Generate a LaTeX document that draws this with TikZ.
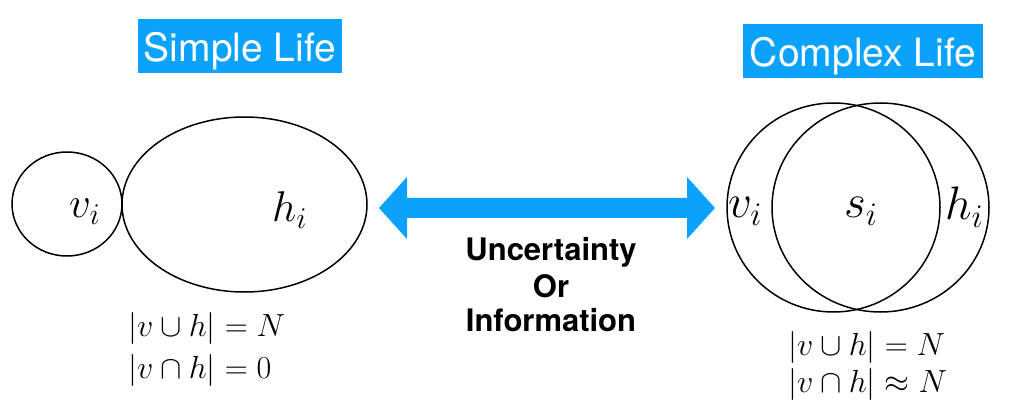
\RequirePackage{fix-cm}
\documentclass[tikz,border=0pt]{standalone}
\usepackage{fontspec}
\newfontfamily\heros{TeX Gyre Heros}
\usetikzlibrary{shapes.geometric}
\definecolor{lifeblue}{RGB}{10,162,250}
\tikzset{
  titlebox/.style={fill=lifeblue, text=white, inner sep=0pt, text height=32pt, text depth=0pt,
    font=\heros\fontsize{39}{46}\selectfont},
  setshape/.style={draw=black, line width=1.5pt, ellipse, inner sep=0pt},
  lbl/.style={inner sep=0pt, anchor=base west},
  eq/.style={inner sep=0pt, anchor=base west, font=\fontsize{32}{38}\selectfont},
  midtext/.style={inner sep=0pt, anchor=base, font=\heros\bfseries\fontsize{31}{36}\selectfont},
}
\begin{document}
\begin{tikzpicture}[x=1pt,y=-1pt]
\useasboundingbox (0,0) rectangle (1020,406);
% titles
\node[titlebox, minimum width=204pt, minimum height=54pt] (simple) at (240,46) {Simple Life};
\node[titlebox, minimum width=240pt, minimum height=54pt] (complex) at (863,51) {Complex Life};
% simple life sets
\node[setshape, minimum width=110pt, minimum height=104pt] (vsmall) at (67,204) {};
\node[setshape, minimum width=245pt, minimum height=175pt] (hbig) at (244.5,204.5) {};
\node[lbl, font=\fontsize{43}{50}\selectfont] (vl) at (69,218) {$v_i$};
\node[lbl, font=\fontsize{43}{50}\selectfont] (hl) at (272,222) {$h_i$};
\node[eq] (eq1) at (128,336) {$|v\cup h|=N$};
\node[eq] (eq2) at (128,378) {$|v\cap h|=0$};
% complex life sets
\node[setshape, minimum width=213pt, minimum height=209pt] (vc) at (833.5,207.5) {};
\node[setshape, minimum width=217pt, minimum height=209pt] (hc) at (880.5,207.5) {};
\node[lbl, font=\fontsize{47}{54}\selectfont] (vr) at (728,218) {$v_i$};
\node[lbl, font=\fontsize{47}{54}\selectfont] (sr) at (844,218) {$s_i$};
\node[lbl, font=\fontsize{47}{54}\selectfont] (hr) at (945,220) {$h_i$};
\node[eq] (eq3) at (788,355) {$|v\cup h|=N$};
\node[eq] (eq4) at (788,392) {$|v\cap h|\approx N$};
% double arrow
\fill[lifeblue] (379,208) -- (407,177) -- (407,198) -- (687,198) -- (687,177) -- (715,208)
  -- (687,239) -- (687,218) -- (407,218) -- (407,239) -- cycle;
\node[midtext] (t1) at (551,261) {Uncertainty};
\node[midtext] (t2) at (551,297) {Or};
\node[midtext] (t3) at (551,331) {Information};
\end{tikzpicture}
\end{document}
